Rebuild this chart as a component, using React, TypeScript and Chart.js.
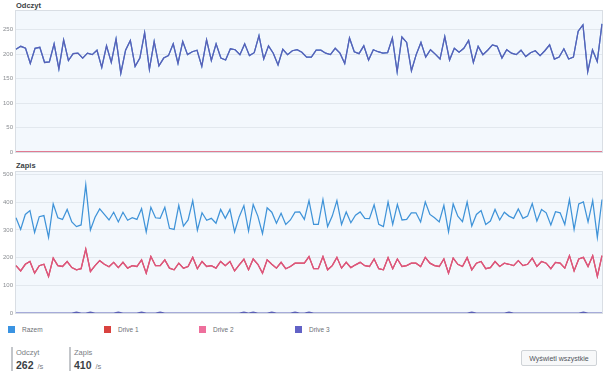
import React, { useEffect, useRef } from "react";
import { Chart, registerables } from "chart.js";

Chart.register(...registerables);

// ---- Data ----
const readRazem = [
  210, 216, 212, 181, 212, 214, 183, 184, 221, 170,
  229, 187, 201, 202, 192, 202, 199, 208, 173, 217,
  183, 231, 161, 208, 228, 175, 192, 244, 169, 226,
  176, 192, 197, 221, 181, 226, 199, 205, 208, 175,
  229, 187, 221, 192, 188, 211, 209, 199, 221, 197,
  203, 238, 190, 217, 202, 178, 210, 199, 207,
  209, 204, 194, 194, 208, 208, 202, 199, 212, 202,
  181, 233, 205, 201, 217, 188, 209, 205, 202, 203,
  233, 164, 235, 224, 166, 199, 224, 194, 209, 200,
  190, 236, 188, 212, 204, 212, 228, 183, 216, 199,
  208, 219, 216, 192, 209, 202, 199, 208, 195, 203,
  207, 197, 207, 219, 190, 194, 211, 190, 194, 247,
  260, 164, 209, 185, 262,
];
const readDrive1 = [
  0, 0, 0, 0, 0, 0, 0, 0, 0, 0, 0, 0, 0, 0, 0, 0, 0, 0, 0, 0,
  0, 0, 0, 0, 0, 0, 0, 0, 0, 0, 0, 0, 0, 0, 0, 0, 0, 0, 0, 0,
  0, 0, 0, 0, 0, 0, 0, 0, 0, 0, 0, 0, 0, 0, 0, 0, 0, 0, 0, 0,
  0, 0, 0, 0, 0, 0, 0, 0, 0, 0, 0, 0, 0, 0, 0, 0, 0, 0, 0, 0,
  0, 0, 0, 0, 0, 0, 0, 0, 0, 0, 0, 0, 0, 0, 0, 0, 0, 0, 0, 0,
  0, 0, 0, 0, 0, 0, 0, 0, 0, 0, 0, 0, 0, 0, 0, 0, 0, 0, 0, 0,
  0, 0, 0, 0,
];
const readDrive2 = [
  0, 0, 0, 0, 0, 0, 0, 0, 0, 0, 0, 0, 0, 0, 0, 0, 0, 0, 0, 0,
  0, 0, 0, 0, 0, 0, 0, 0, 0, 0, 0, 0, 0, 0, 0, 0, 0, 0, 0, 0,
  0, 0, 0, 0, 0, 0, 0, 0, 0, 0, 0, 0, 0, 0, 0, 0, 0, 0, 0, 0,
  0, 0, 0, 0, 0, 0, 0, 0, 0, 0, 0, 0, 0, 0, 0, 0, 0, 0, 0, 0,
  0, 0, 0, 0, 0, 0, 0, 0, 0, 0, 0, 0, 0, 0, 0, 0, 0, 0, 0, 0,
  0, 0, 0, 0, 0, 0, 0, 0, 0, 0, 0, 0, 0, 0, 0, 0, 0, 0, 0, 0,
  0, 0, 0, 0,
];
const readDrive3 = [
  210, 216, 212, 181, 212, 214, 183, 184, 221, 170,
  229, 187, 201, 202, 192, 202, 199, 208, 173, 217,
  183, 231, 161, 208, 228, 175, 192, 244, 169, 226,
  176, 192, 197, 221, 181, 226, 199, 205, 208, 175,
  229, 187, 221, 192, 188, 211, 209, 199, 221, 197,
  203, 238, 190, 217, 202, 178, 210, 199, 207,
  209, 204, 194, 194, 208, 208, 202, 199, 212, 202,
  181, 233, 205, 201, 217, 188, 209, 205, 202, 203,
  233, 164, 235, 224, 166, 199, 224, 194, 209, 200,
  190, 236, 188, 212, 204, 212, 228, 183, 216, 199,
  208, 219, 216, 192, 209, 202, 199, 208, 195, 203,
  207, 197, 207, 219, 190, 194, 211, 190, 194, 247,
  260, 164, 209, 185, 262,
];

const writeRazem = [
  344, 302, 356, 370, 291, 348, 352, 273, 394, 344,
  338, 374, 329, 312, 318, 463, 300, 346, 376, 356,
  336, 364, 329, 364, 335, 344, 338, 377, 293, 382,
  344, 342, 382, 306, 302, 389, 314, 336, 406, 299,
  362, 335, 342, 324, 374, 342, 374, 293, 348, 388,
  296, 392, 350, 287, 380, 364, 324, 360, 320, 336,
  364, 365,
  338, 406, 320, 320, 410, 312, 350, 406, 320, 365,
  326, 353, 365, 342, 341, 391, 320, 312, 401, 320,
  392, 336, 338, 362, 362, 329, 401, 356, 344, 329,
  389, 293, 394, 350, 330, 401, 314, 356, 370, 320,
  332, 374, 336, 364, 350, 342, 376, 342, 350, 395,
  332, 374, 362, 318, 366, 362, 320, 410, 302, 394,
  401, 329, 406, 273, 410,
];
const writeDrive1 = [
  171, 152, 176, 186, 144, 171, 176, 132, 198, 171,
  168, 186, 164, 156, 160, 231, 150, 171, 189, 176,
  167, 183, 164, 183, 162, 171, 168, 192, 144, 204,
  171, 171, 192, 162, 156, 180, 162, 168, 201, 160,
  186, 168, 171, 162, 186, 171, 186, 152, 174, 194,
  156, 195, 176, 144, 192, 176, 162, 183, 160, 168,
  180, 180,
  180, 204, 160, 160, 204, 156, 171, 201, 162, 183,
  164, 174, 183, 171, 168, 195, 160, 156, 200, 160,
  195, 168, 171, 180, 180, 168, 201, 180, 171, 168,
  195, 144, 198, 176, 168, 200, 156, 180, 186, 160,
  164, 186, 168, 180, 176, 171, 189, 171, 176, 198,
  168, 186, 180, 160, 183, 180, 162, 207, 152, 195,
  201, 168, 207, 132, 207,
];
const writeDrive2 = [
  171, 152, 176, 186, 144, 171, 176, 132, 198, 171,
  168, 186, 164, 156, 160, 231, 150, 171, 189, 176,
  167, 183, 164, 183, 162, 171, 168, 192, 144, 204,
  171, 171, 192, 162, 156, 180, 162, 168, 201, 160,
  186, 168, 171, 162, 186, 171, 186, 152, 174, 194,
  156, 195, 176, 144, 192, 176, 162, 183, 160, 168,
  180, 180,
  180, 204, 160, 160, 204, 156, 171, 201, 162, 183,
  164, 174, 183, 171, 168, 195, 160, 156, 200, 160,
  195, 168, 171, 180, 180, 168, 201, 180, 171, 168,
  195, 144, 198, 176, 168, 200, 156, 180, 186, 160,
  164, 186, 168, 180, 176, 171, 189, 171, 176, 198,
  168, 186, 180, 160, 183, 180, 162, 207, 152, 195,
  201, 168, 207, 132, 207,
];
const writeDrive3 = [
  0, 0, 0, 0, 0, 0, 0, 0, 0, 0,
  0, 0, 0, 3, 0, 0, 3, 0, 0, 0,
  0, 0, 3, 0, 0, 0, 0, 3, 0, 0,
  0, 3, 0, 0, 0, 0, 0, 0, 0, 0,
  0, 0, 0, 0, 0, 0, 0, 0, 0, 3,
  0, 3, 0, 0, 0, 3, 0, 0, 0, 0,
  3, 0, 0, 3, 0, 0, 0, 0, 0, 0,
  0, 0, 0, 0, 0, 0, 0, 0, 0, 0,
  0, 0, 0, 0, 0, 0, 0, 0, 0, 0,
  0, 0, 0, 0, 0, 0, 0, 0, 3, 0,
  0, 0, 0, 0, 0, 0, 3, 0, 0, 0,
  0, 0, 0, 0, 0, 0, 0, 0, 0, 0,
  0, 0, 3, 0, 0, 0, 0,
];

const seriesNames = ["Razem", "Drive 1", "Drive 2", "Drive 3"];
const readTicks = [0, 50, 100, 150, 200, 250];
const writeTicks = [0, 100, 200, 300, 400, 500];
const currentRead = "262";
const currentWrite = "410";

// ---- Styles ----
const COLORS = ["#3f93d8", "#d64848", "#dd5580", "#5b5fb6"];
const LEGEND_COLORS = ["#3a93e2", "#d9423f", "#ee6f9c", "#6262c6"];
const FONT = "'Liberation Sans', Arial, sans-serif";

const panelPlugin = {
  id: "panelBg",
  beforeDraw(chart: any) {
    const { ctx, chartArea: a } = chart;
    ctx.save();
    ctx.fillStyle = "#f3f8fd";
    ctx.fillRect(a.left, a.top, a.right - a.left, a.bottom - a.top);
    ctx.restore();
  },
  beforeDatasetsDraw(chart: any) {
    const { ctx, chartArea: a } = chart;
    ctx.save();
    ctx.strokeStyle = "#d9dee4";
    ctx.lineWidth = 1;
    ctx.strokeRect(a.left - 0.5, a.top - 0.5, a.right - a.left + 1, a.bottom - a.top + 1);
    ctx.restore();
  },
};

function makeConfig(series: number[][], ticks: number[], padTop: number, padBottom: number): any {
  const razem = series[0];
  const labels = razem.map((_, i) => String(i));
  return {
    type: "line",
    data: {
      labels,
      datasets: series.map((data, i) => ({
        label: seriesNames[i],
        data,
        borderColor: COLORS[i],
        backgroundColor: COLORS[i],
        borderWidth: 1.25,
        pointRadius: 0,
        tension: 0,
        fill: false,
        order: 4 - i,
      })),
    },
    options: {
      responsive: false,
      animation: false,
      devicePixelRatio: 1,
      layout: { padding: { left: 0, right: 3, top: padTop, bottom: padBottom } },
      plugins: { legend: { display: false }, tooltip: { enabled: false } },
      scales: {
        x: { display: false },
        y: {
          min: 0,
          max: Math.max(...razem) * 1.1,
          afterFit(scale: any) {
            scale.width = 16;
          },
          afterBuildTicks(scale: any) {
            scale.ticks = ticks.map((v) => ({ value: v }));
          },
          ticks: {
            font: { size: 6, family: FONT },
            color: "#8a8d92",
            padding: 3,
          },
          grid: { color: "#e2e8ee", drawTicks: false, lineWidth: 1 },
          border: { display: false },
        },
      },
    },
    plugins: [panelPlugin],
  };
}

function ChartCanvas({ config, width, height }: { config: any; width: number; height: number }) {
  const ref = useRef<HTMLCanvasElement | null>(null);
  useEffect(() => {
    if (!ref.current) return;
    const chart = new Chart(ref.current, config);
    return () => chart.destroy();
  }, [config]);
  return <canvas ref={ref} width={width} height={height} style={{ width, height, display: "block" }} />;
}

const readConfig = makeConfig([readRazem, readDrive1, readDrive2, readDrive3], readTicks, 11, 8);
const writeConfig = makeConfig([writeRazem, writeDrive1, writeDrive2, writeDrive3], writeTicks, 12, 7);

export default function App() {
  const title: React.CSSProperties = {
    position: "absolute",
    left: 16,
    fontFamily: FONT,
    fontWeight: "bold",
    fontSize: 7.5,
    color: "#3a3f45",
    lineHeight: "9px",
  };
  const legendItem = (i: number, left: number) => (
    <div key={i} style={{ position: "absolute", left, top: 326, height: 7, display: "flex", alignItems: "center" }}>
      <div style={{ width: 7, height: 7, background: LEGEND_COLORS[i] }} />
      <span style={{ marginLeft: 7, fontFamily: FONT, fontSize: 6.5, color: "#6b6f75", lineHeight: "7px" }}>
        {seriesNames[i]}
      </span>
    </div>
  );
  const stat = (left: number, label: string, value: string) => (
    <div style={{ position: "absolute", left, top: 347, height: 24 }}>
      <div style={{ position: "absolute", left: 0, top: 0, width: 2, height: 24, background: "#c3c6ca" }} />
      <div
        style={{
          position: "absolute",
          left: 5,
          top: 1,
          fontFamily: FONT,
          fontSize: 7.5,
          color: "#7a7e84",
          whiteSpace: "nowrap",
          lineHeight: "9px",
        }}
      >
        {label}
      </div>
      <div
        style={{
          position: "absolute",
          left: 5,
          top: 11,
          fontFamily: FONT,
          whiteSpace: "nowrap",
          lineHeight: "12px",
        }}
      >
        <span style={{ fontSize: 10.5, fontWeight: "bold", color: "#3a3f45" }}>{value}</span>
        <span style={{ fontSize: 7.5, color: "#7a7e84", marginLeft: 4 }}>/s</span>
      </div>
    </div>
  );
  return (
    <div
      style={{
        position: "fixed",
        left: 0,
        top: 0,
        width: 605,
        height: 371,
        background: "#ffffff",
        overflow: "hidden",
      }}
    >
      <div style={{ ...title, top: 1 }}>Odczyt</div>
      <div style={{ position: "absolute", left: 0, top: 0 }}>
        <ChartCanvas config={readConfig} width={605} height={160} />
      </div>
      <div style={{ ...title, top: 161 }}>Zapis</div>
      <div style={{ position: "absolute", left: 0, top: 160 }}>
        <ChartCanvas config={writeConfig} width={605} height={160} />
      </div>
      {legendItem(0, 8)}
      {legendItem(1, 104)}
      {legendItem(2, 199)}
      {legendItem(3, 295)}
      {stat(11, "Odczyt", currentRead)}
      {stat(69, "Zapis", currentWrite)}
      <div
        style={{
          position: "absolute",
          left: 521,
          top: 350,
          width: 76,
          height: 16,
          boxSizing: "border-box",
          border: "1px solid #cfd3d7",
          borderRadius: 2,
          background: "#f7f8f9",
          fontFamily: FONT,
          fontSize: 7,
          color: "#50555b",
          display: "flex",
          alignItems: "center",
          justifyContent: "center",
          whiteSpace: "nowrap",
        }}
      >
        Wyświetl wszystkie
      </div>
    </div>
  );
}
